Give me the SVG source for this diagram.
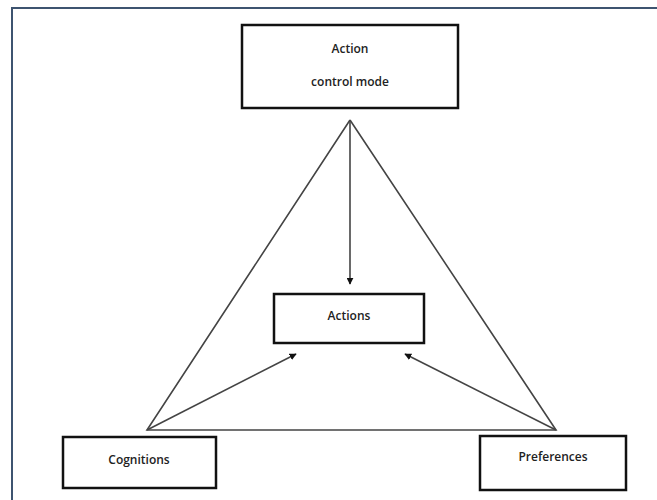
<svg xmlns="http://www.w3.org/2000/svg" width="657" height="500" viewBox="0 0 657 500">
<style>
.box{fill:#fff;stroke:#111;stroke-width:2.5}
.lbl{font-family:"Open Sans","Liberation Sans",sans-serif;font-size:12px;font-weight:600;fill:#222;text-anchor:middle}
.edge{stroke:#444;stroke-width:1.6;fill:none}
</style>
<defs>
<marker id="ah" viewBox="0 0 10 10" refX="9" refY="5" markerWidth="7" markerHeight="7" markerUnits="userSpaceOnUse" orient="auto">
<path d="M0,0 L10,5 L0,10 z" fill="#111"/>
</marker>
</defs>
<rect width="657" height="500" fill="#fff"/>
<path d="M12,500 V8 H657" fill="none" stroke="#3d5470" stroke-width="2"/>
<g id="connectors">
<polyline class="edge" points="350,120 147,430 556,430 350,120"/>
<line class="edge" x1="350" y1="120" x2="350" y2="284" marker-end="url(#ah)"/>
<line class="edge" x1="147" y1="430" x2="296" y2="354" marker-end="url(#ah)"/>
<line class="edge" x1="556" y1="430" x2="405" y2="354" marker-end="url(#ah)"/>
</g>
<g id="action-control-mode">
<rect class="box" x="242" y="25" width="216" height="83"/>
<text class="lbl" x="350" y="53">Action</text>
<text class="lbl" x="350" y="86">control mode</text>
</g>
<g id="actions">
<rect class="box" x="274" y="294" width="150" height="49"/>
<text class="lbl" x="349" y="320">Actions</text>
</g>
<g id="cognitions">
<rect class="box" x="63" y="437" width="153" height="51"/>
<text class="lbl" x="139" y="464">Cognitions</text>
</g>
<g id="preferences">
<rect class="box" x="480" y="436" width="146" height="54"/>
<text class="lbl" x="553" y="461">Preferences</text>
</g>
</svg>
